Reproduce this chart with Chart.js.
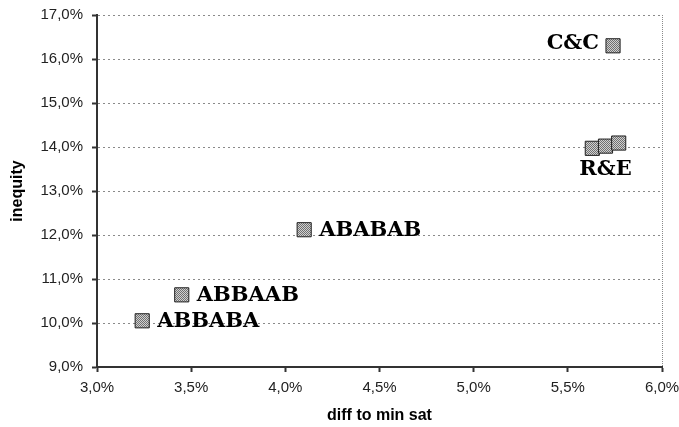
<!DOCTYPE html>
<html>
<head>
<meta charset="utf-8">
<script src="https://cdn.jsdelivr.net/npm/chart.js@4.4.1/dist/chart.umd.min.js"></script>
<style>
  html, body { margin: 0; padding: 0; background: #fff; }
  #wrap { width: 679px; height: 427px; }
</style>
</head>
<body>
<div id="wrap"><canvas id="chart" width="679" height="427"></canvas></div>
<script>
// data (percent values)
const pointNames = ['ABBABA', 'ABBAAB', 'ABABAB', 'C&C', '', 'R&E', ''];
const diffToMinSat = [3.24, 3.45, 4.10, 5.74, 5.63, 5.70, 5.77];
const inequity = [10.05, 10.64, 12.12, 16.30, 13.97, 14.02, 14.09];

const xTicks = [3.0, 3.5, 4.0, 4.5, 5.0, 5.5, 6.0];
const yTicks = [9, 10, 11, 12, 13, 14, 15, 16, 17];

// where each label sits next to its marker
const labelSide = { 'ABBABA': 'right', 'ABBAAB': 'right', 'ABABAB': 'right', 'C&C': 'left', 'R&E': 'below' };

// dithered grey fill like the old excel marker
function makePattern() {
  const c = document.createElement('canvas');
  c.width = 2; c.height = 2;
  const g = c.getContext('2d');
  g.fillStyle = '#d0d0d0';
  g.fillRect(0, 0, 2, 2);
  g.fillStyle = '#707070';
  g.fillRect(0, 0, 1, 1);
  g.fillRect(1, 1, 1, 1);
  return g.createPattern(c, 'repeat');
}

function pct(v) {
  return v.toFixed(1).replace('.', ',') + '%';
}

const points = diffToMinSat.map((x, i) => ({ x: x, y: inequity[i] }));

const labelPlugin = {
  id: 'pointLabels',
  afterDatasetsDraw(chart) {
    const meta = chart.getDatasetMeta(0);
    const ctx = chart.ctx;
    ctx.save();
    ctx.font = 'bold 21px "DejaVu Serif"';
    ctx.fillStyle = '#000';
    meta.data.forEach((pt, i) => {
      const name = pointNames[i];
      if (!name) return;
      const side = labelSide[name];
      if (side === 'right') {
        ctx.textAlign = 'left';
        ctx.textBaseline = 'middle';
        ctx.fillText(name, pt.x + 15, pt.y + 1);
      } else if (side === 'left') {
        ctx.textAlign = 'right';
        ctx.textBaseline = 'middle';
        ctx.fillText(name, pt.x - 14, pt.y - 2);
      } else {
        ctx.textAlign = 'center';
        ctx.textBaseline = 'top';
        ctx.fillText(name, pt.x, pt.y + 13);
      }
    });
    ctx.restore();
  }
};

new Chart(document.getElementById('chart'), {
  type: 'scatter',
  data: {
    datasets: [{
      data: points,
      pointStyle: 'rect',
      pointRadius: 10,
      pointHoverRadius: 10,
      backgroundColor: makePattern(),
      borderColor: '#202020',
      borderWidth: 1
    }]
  },
  plugins: [labelPlugin],
  options: {
    responsive: false,
    animation: false,
    layout: { padding: { left: 0, right: 17, top: 15, bottom: 0 } },
    plugins: {
      legend: { display: false },
      tooltip: { enabled: false }
    },
    scales: {
      x: {
        type: 'linear',
        min: 3,
        max: 6,
        afterBuildTicks: axis => { axis.ticks = xTicks.map(v => ({ value: v })); },
        afterFit: axis => {
          axis.height = 60;
          axis.paddingLeft = 0;
          axis.paddingRight = 0;
        },
        ticks: {
          callback: v => pct(v),
          color: '#222',
          font: { family: 'Liberation Sans', size: 15 },
          padding: 7,
          maxRotation: 0
        },
        grid: {
          color: ctx => (ctx.tick && ctx.tick.value === 6 ? '#8a8a8a' : 'rgba(0,0,0,0)'),
          tickBorderDash: [],
          drawTicks: true,
          tickLength: 5,
          tickColor: '#333',
          tickWidth: 2
        },
        border: { display: true, color: '#333', width: 2, dash: [1, 1] },
        title: {
          display: true,
          text: 'diff to min sat',
          color: '#000',
          font: { family: 'Liberation Sans', size: 16, weight: 'bold' },
          padding: { top: 0, bottom: 2 }
        }
      },
      y: {
        type: 'linear',
        min: 9,
        max: 17,
        afterBuildTicks: axis => { axis.ticks = yTicks.map(v => ({ value: v })); },
        afterFit: axis => {
          axis.width = 97;
          axis.paddingTop = 0;
          axis.paddingBottom = 0;
        },
        ticks: {
          callback: v => pct(v),
          color: '#222',
          font: { family: 'Liberation Sans', size: 15 },
          padding: 9
        },
        grid: {
          color: '#8a8a8a',
          tickBorderDash: [],
          drawTicks: true,
          tickLength: 5,
          tickColor: '#333',
          tickWidth: 2
        },
        border: { display: true, color: '#333', width: 2, dash: [2, 3] },
        title: {
          display: true,
          text: 'inequity',
          color: '#000',
          font: { family: 'Liberation Sans', size: 16, weight: 'bold' },
          padding: { top: 8, bottom: 0 }
        }
      }
    }
  }
});
</script>
</body>
</html>
